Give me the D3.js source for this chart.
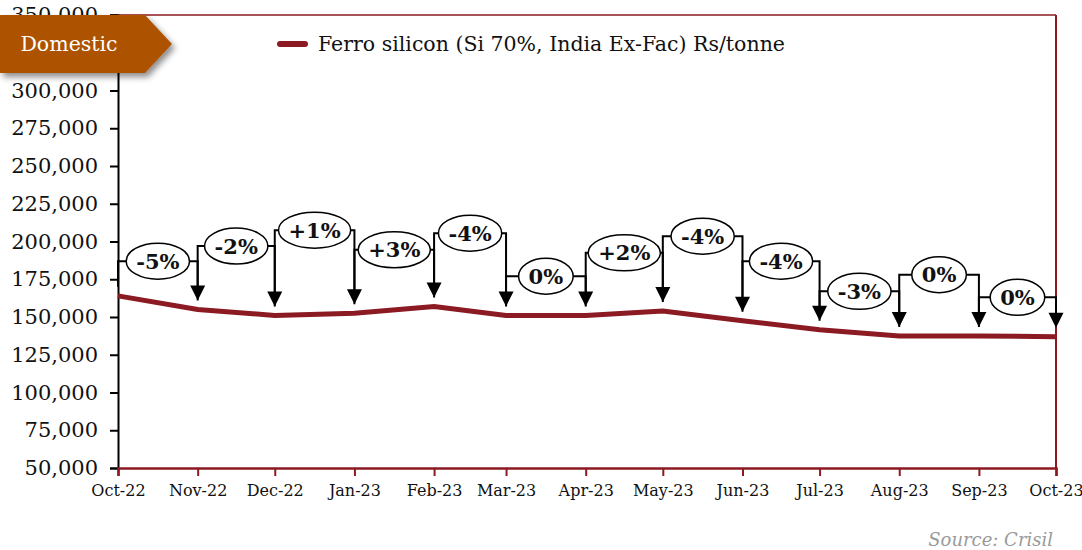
<!DOCTYPE html>
<html>
<head>
  <meta charset="UTF-8">
  <title>Ferro silicon price</title>
  <style>
    body { margin: 0; background: white; }
    svg { display: block; font-family: 'DejaVu Serif', serif; }
  </style>
</head>
<body>
  <svg id="chart" width="1082" height="550"></svg>

  <script src="https://d3js.org/d3.v7.min.js"></script>
  <script>
    // data
    const months = ["Oct-22", "Nov-22", "Dec-22", "Jan-23", "Feb-23", "Mar-23", "Apr-23",
      "May-23", "Jun-23", "Jul-23", "Aug-23", "Sep-23", "Oct-23"];
    const prices = [164000, 155000, 151000, 152500, 157000, 151000, 151000,
      154000, 147500, 141500, 137500, 137500, 137000];
    const changes = ["-5%", "-2%", "+1%", "+3%", "-4%", "0%", "+2%", "-4%", "-4%", "-3%", "0%", "0%"];
    // height (in Rs/tonne) at which each change bubble sits
    const calloutLevels = [187000, 197000, 207500, 194500, 205500, 177000, 192500,
      203500, 187000, 167000, 178000, 163000];
    const yTicks = d3.range(50000, 350001, 25000);

    const red = "#8b1a22";
    let svg = d3.select("#chart");

    let dates = months.map((m, i) => new Date(2022, 9 + i, 1));

    let x = d3.scaleTime()
      .domain([dates[0], dates[dates.length - 1]])
      .range([118, 1056]);
    let y = d3.scaleLinear()
      .domain([50000, 350000])
      .range([468, 15]);

    // frame (top + right)
    svg.append("line")
      .attr("x1", 110).attr("x2", 1056)
      .attr("y1", y(350000)).attr("y2", y(350000))
      .attr("stroke", red).attr("stroke-width", 1.5);
    svg.append("line")
      .attr("x1", 1056).attr("x2", 1056)
      .attr("y1", y(350000)).attr("y2", y(50000))
      .attr("stroke", red).attr("stroke-width", 2);

    // y axis
    let yAxis = svg.append("g")
      .attr("transform", "translate(118,0)")
      .call(d3.axisLeft(y).tickValues(yTicks).tickSize(8).tickPadding(12)
        .tickFormat(d3.format(",")));
    yAxis.select(".domain").attr("stroke", "black").attr("stroke-width", 2);
    yAxis.selectAll(".tick line").attr("stroke", "black").attr("stroke-width", 2);
    yAxis.selectAll("text")
      .attr("font-family", "'DejaVu Serif', serif")
      .attr("font-size", 21)
      .attr("fill", "#111");

    // x axis
    let xAxis = svg.append("g")
      .attr("transform", "translate(0," + y(50000) + ")")
      .call(d3.axisBottom(x).tickValues(dates).tickSize(8).tickPadding(9)
        .tickFormat((d, i) => months[i]));
    xAxis.select(".domain").attr("stroke", red).attr("stroke-width", 2.5);
    xAxis.selectAll(".tick line").attr("stroke", red).attr("stroke-width", 2);
    xAxis.selectAll("text")
      .attr("font-family", "'DejaVu Serif', serif")
      .attr("font-size", 16)
      .attr("fill", "#111");

    // price line
    let line = d3.line()
      .x((d, i) => x(dates[i]))
      .y(d => y(d));
    svg.append("path")
      .datum(prices)
      .attr("fill", "none")
      .attr("stroke", red)
      .attr("stroke-width", 5)
      .attr("d", line);

    // change callouts: bracket from month to month, arrow down to next month's price
    let callouts = svg.append("g");
    changes.forEach((c, i) => {
      let x0 = x(dates[i]), x1 = x(dates[i + 1]);
      let ly = y(calloutLevels[i]);
      let tip0 = y(prices[i]) - 9, tip1 = y(prices[i + 1]) - 9;
      let g = callouts.append("g");

      g.append("path")
        .attr("d", "M" + x0 + "," + tip0 + "V" + ly + "H" + x1 + "V" + (tip1 - 14))
        .attr("fill", "none")
        .attr("stroke", "black")
        .attr("stroke-width", 2);
      g.append("path")
        .attr("d", "M" + (x1 - 7.5) + "," + (tip1 - 15) + "L" + (x1 + 7.5) + "," + (tip1 - 15) +
          "L" + x1 + "," + tip1 + "Z")
        .attr("fill", "black");

      let cx = (x0 + x1) / 2;
      let ell = g.append("ellipse")
        .attr("cx", cx).attr("cy", ly)
        .attr("ry", 18)
        .attr("fill", "white")
        .attr("stroke", "black")
        .attr("stroke-width", 1.5);
      let t = g.append("text")
        .attr("x", cx).attr("y", ly)
        .attr("dy", "0.36em")
        .attr("text-anchor", "middle")
        .attr("font-size", 21)
        .attr("font-weight", "bold")
        .attr("fill", "#111")
        .text(c);
      let w = t.node().getComputedTextLength();
      ell.attr("rx", w / 2 + 10);
    });

    // legend
    svg.append("line")
      .attr("x1", 280).attr("x2", 305)
      .attr("y1", 44).attr("y2", 44)
      .attr("stroke", red).attr("stroke-width", 6)
      .attr("stroke-linecap", "round");
    svg.append("text")
      .attr("x", 318).attr("y", 44)
      .attr("dy", "0.35em")
      .attr("font-size", 20.5)
      .attr("fill", "#111")
      .text("Ferro silicon (Si 70%, India Ex-Fac) Rs/tonne");

    // "Domestic" badge
    let defs = svg.append("defs");
    let f = defs.append("filter").attr("id", "shadow")
      .attr("x", "-10%").attr("y", "-20%").attr("width", "130%").attr("height", "160%");
    f.append("feDropShadow")
      .attr("dx", 3).attr("dy", 4).attr("stdDeviation", 3)
      .attr("flood-color", "#000").attr("flood-opacity", 0.45);

    svg.append("path")
      .attr("d", "M0,15 H145 L172,44 L145,73 H0 Z")
      .attr("fill", "#ad5200")
      .attr("filter", "url(#shadow)");
    svg.append("text")
      .attr("x", 69).attr("y", 44)
      .attr("dy", "0.35em")
      .attr("text-anchor", "middle")
      .attr("font-size", 20.5)
      .attr("fill", "white")
      .text("Domestic");

    // source
    svg.append("text")
      .attr("x", 1053).attr("y", 546)
      .attr("text-anchor", "end")
      .attr("font-size", 18)
      .attr("font-style", "italic")
      .attr("fill", "#9a9a9a")
      .text("Source: Crisil");
  </script>
</body>
</html>
